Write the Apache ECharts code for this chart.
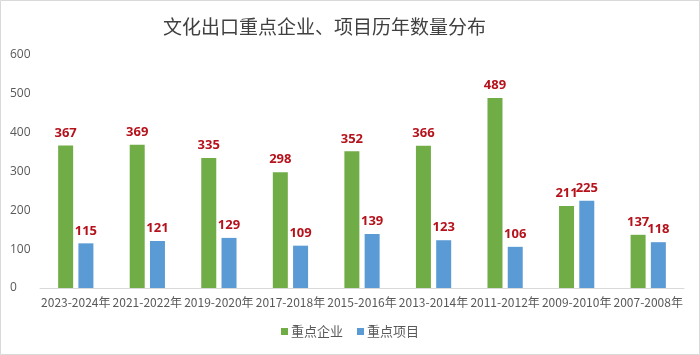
<!DOCTYPE html>
<html><head><meta charset="utf-8">
<script src="https://cdn.jsdelivr.net/npm/echarts@6/dist/echarts.min.js"></script>
<style>html,body{margin:0;padding:0;background:#fff}#c{width:700px;height:355px}</style>
</head><body><div id="c"></div>
<script>
const categories = ['2023-2024年','2021-2022年','2019-2020年','2017-2018年','2015-2016年','2013-2014年','2011-2012年','2009-2010年','2007-2008年'];
const enterprises = [367,369,335,298,352,366,489,211,137];
const projects = [115,121,129,109,139,123,106,225,118];
const seriesNames = ['重点企业','重点项目'];
const titleText = '文化出口重点企业、项目历年数量分布';

const chart = echarts.init(document.getElementById('c'));
const lbl = {show:true, position:'top', color:'#B5121B', fontWeight:'bold', fontSize:13, fontFamily:'Open Sans, sans-serif', distance:6};
chart.setOption({
  animation:false,
  backgroundColor:'#fff',
  graphic:[{type:'rect', shape:{x:0.5,y:0.5,width:699,height:354}, style:{fill:'none', stroke:'#D9D9D9', lineWidth:1}}],
  title:{text:titleText, left:158, top:12, textStyle:{fontSize:19, fontWeight:'normal', color:'#404040', fontFamily:'Noto Sans CJK SC'}},
  legend:{bottom:12, left:'center', itemWidth:7, itemHeight:7, itemGap:14, icon:'rect',
    textStyle:{color:'#595959', fontSize:13, fontFamily:'Noto Sans CJK SC', padding:[0,0,0,-2]}},
  grid:{left:40, right:16, top:55, bottom:67, containLabel:false},
  xAxis:{type:'category', data:categories,
    axisLine:{lineStyle:{color:'#D9D9D9'}}, axisTick:{show:false},
    axisLabel:{color:'#595959', fontSize:12, fontFamily:'Noto Sans CJK SC', interval:0, margin:8}},
  yAxis:{type:'value', min:0, max:600, interval:100,
    splitLine:{show:false},
    axisLabel:{color:'#595959', fontSize:12, fontFamily:'Open Sans, sans-serif', margin:30, align:'left'}},
  series:[
    {name:seriesNames[0], type:'bar', data:enterprises, itemStyle:{color:'#70AD47'}, barWidth:15, barGap:'35%', label:lbl},
    {name:seriesNames[1], type:'bar', data:projects, itemStyle:{color:'#5B9BD5'}, barWidth:15, label:lbl}
  ]
});
</script></body></html>
